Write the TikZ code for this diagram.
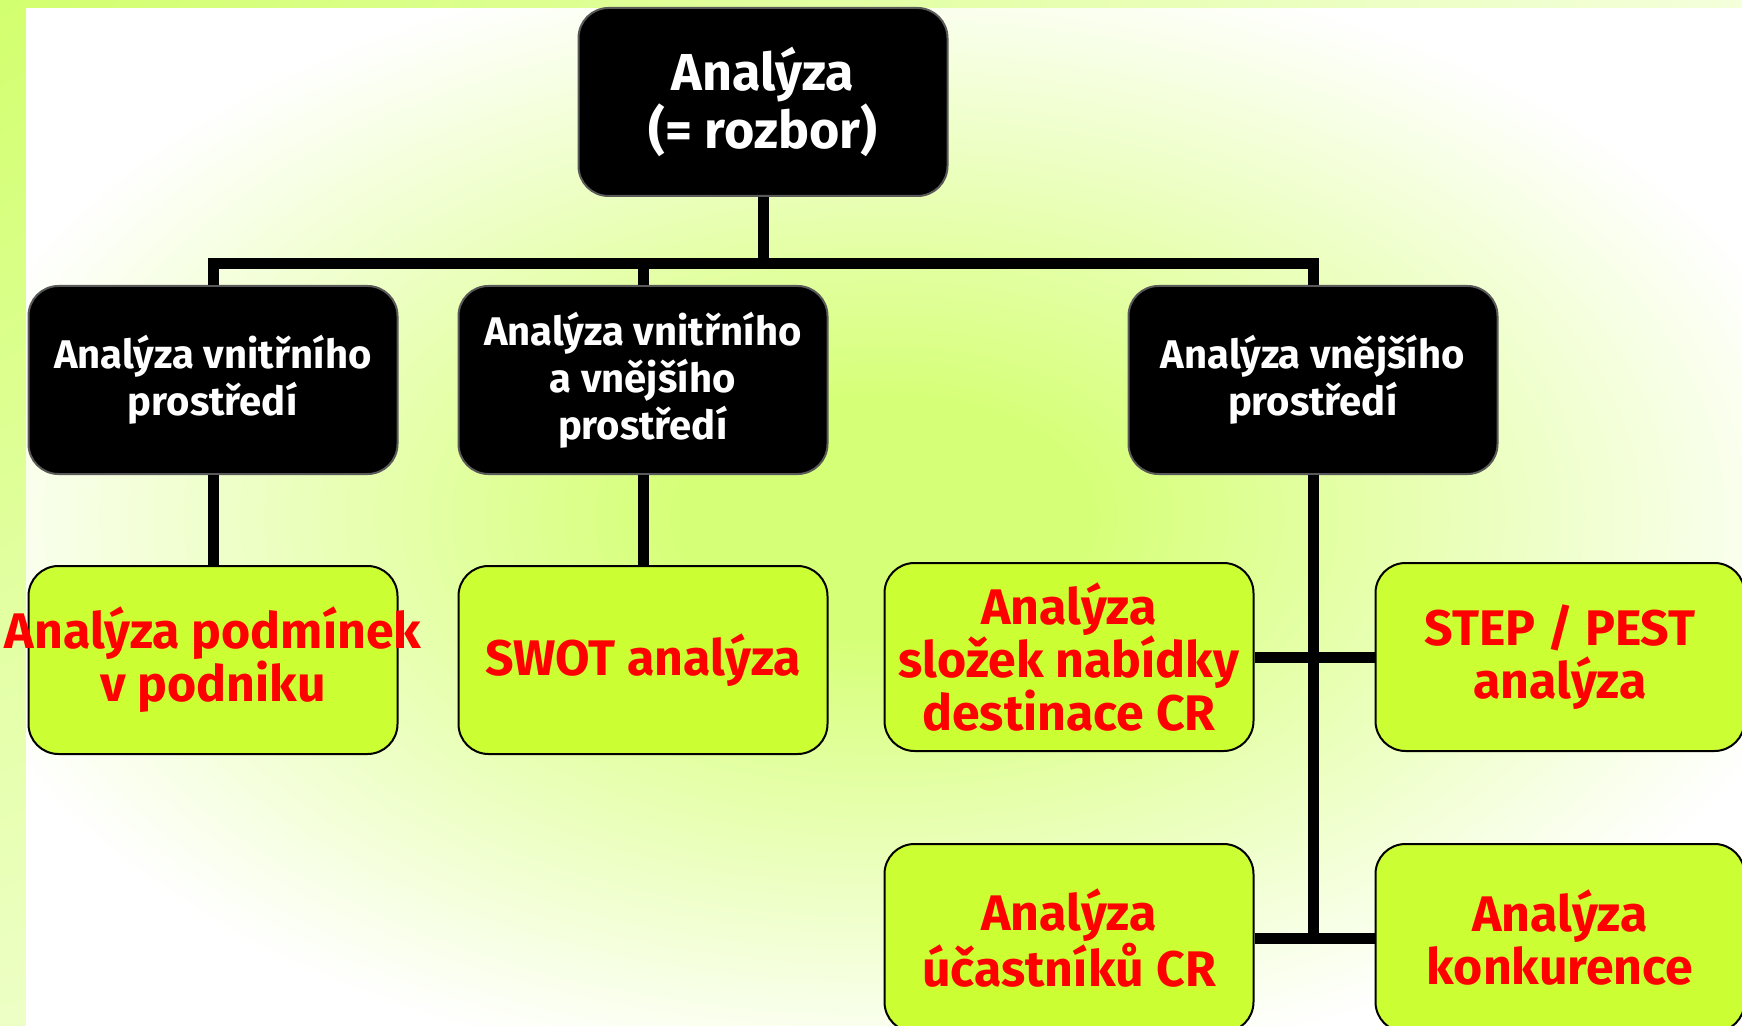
\documentclass[tikz,border=0pt]{standalone}
\usepackage{fontspec}
\setmainfont{Fira Sans}
\usetikzlibrary{positioning,shadings}
\definecolor{glow}{RGB}{214,255,120}
\definecolor{framegreen}{RGB}{210,255,110}
\definecolor{leafgreen}{RGB}{204,255,51}
\pgfdeclareradialshading{bgglow}{\pgfpoint{0bp}{0bp}}{color(0bp)=(glow); color(6bp)=(glow); color(28bp)=(white); color(50bp)=(white)}

\begin{document}
\begin{tikzpicture}[
    x=0.5pt, y=0.5pt,
    node distance=45pt and 60pt,
    box/.style={rounded corners=15pt, minimum width=184.5pt, minimum height=94pt,
                align=center, inner sep=2pt, line width=1pt},
    topbox/.style={box, fill=black, draw=black!65, text=white, font=\bfseries\fontsize{26}{24}\selectfont},
    midbox/.style={box, fill=black, draw=black!65, text=white, font=\bfseries\fontsize{20}{23.5}\selectfont},
    leaf/.style={box, fill=leafgreen, draw=black, text=red, font=\bfseries\fontsize{25}{26.5}\selectfont},
    conn/.style={line width=5.5pt, line join=miter},
]
\useasboundingbox (0,0) rectangle (1742,1025);
\clip (0,0) rectangle (1742,1025);
% Slide background.
\shade[upper left=framegreen, upper right=white!75!framegreen,
       lower left=white!60!framegreen, lower right=white] (0,0) rectangle (1742,1025);
\shade[shading=bgglow] (26,0) rectangle (1742,1016);

% Root and first level (black boxes).
\node[topbox]                    (analyza) at (763,923) {Analýza\\(= rozbor)};
\node[midbox]                    (vnitrni) at (213,645) {Analýza vnitřního\\prostředí};
\node[midbox, right=29.5pt of vnitrni] (obe)      {Analýza vnitřního\\a vnějšího\\prostředí};
\node[midbox]                    (vnejsi)  at (1313,645) {Analýza vnějšího\\prostředí};

% Second level (green boxes); the first text runs over its box.
\node[leaf, below=of vnitrni]    (podnik)  {\makebox[0pt]{Analýza podmínek}\\\makebox[0pt]{v podniku}};
\node[leaf, below=of obe]        (swot)    {SWOT analýza};
\node[leaf]                      (slozky)  at (1069,368) {Analýza\\složek nabídky\\destinace CR};
\node[leaf, right=of slozky]     (step)    {STEP / PEST\\analýza};
\node[leaf, below=45.5pt of slozky] (ucast) {Analýza\\účastníků CR};
\node[leaf, below=45.5pt of step]   (konk)  {Analýza\\konkurence};

% Tree lines.
\draw[conn] (analyza.south) -- ++(0,-67) coordinate (bus);
\draw[conn] (vnitrni.north) |- (bus) -| (vnejsi.north);
\draw[conn] (obe.north) -- (obe.north |- bus);
\draw[conn] (vnitrni) -- (podnik);
\draw[conn] (obe) -- (swot);
\draw[conn] (vnejsi.south) -- (vnejsi.south |- ucast);
\draw[conn] (slozky) -- (step);
\draw[conn] (ucast) -- (konk);
\end{tikzpicture}
\end{document}
